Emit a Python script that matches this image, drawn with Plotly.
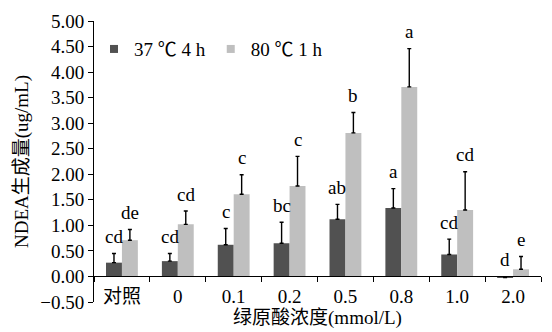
import plotly.graph_objects as go

categories = ["对照", "0", "0.1", "0.2", "0.5", "0.8", "1.0", "2.0"]
series_names = ["37 ℃ 4 h", "80 ℃ 1 h"]
vals_37 = [0.27, 0.30, 0.62, 0.65, 1.12, 1.34, 0.43, -0.02]
err_37 = [0.18, 0.15, 0.32, 0.41, 0.29, 0.38, 0.30, 0.0]
vals_80 = [0.71, 1.02, 1.61, 1.77, 2.81, 3.71, 1.30, 0.14]
err_80 = [0.21, 0.26, 0.38, 0.58, 0.40, 0.75, 0.75, 0.25]
letters_37 = ["cd", "cd", "c", "bc", "ab", "a", "cd", "d"]
letters_80 = ["de", "cd", "c", "c", "b", "a", "cd", "e"]
y_ticks = [-0.5, 0, 0.5, 1.0, 1.5, 2.0, 2.5, 3.0, 3.5, 4.0, 4.5, 5.0]

DARK = "#515151"
LIGHT = "#bfbfbf"
FONT = "Liberation Serif, Times New Roman, Noto Sans CJK SC, serif"

fig = go.Figure()
for name, vals, errs, color in [(series_names[0], vals_37, err_37, DARK),
                                (series_names[1], vals_80, err_80, LIGHT)]:
    fig.add_trace(go.Bar(
        x=categories, y=vals, name=name, marker_color=color,
        marker_line_width=0, showlegend=False,
        error_y=dict(type="data", symmetric=False, array=errs,
                     arrayminus=[0] * len(errs), color="black",
                     thickness=1.4, width=2),
    ))
    # legend entry with a small square symbol
    fig.add_trace(go.Scatter(
        x=[None], y=[None], mode="markers", name=name,
        marker=dict(symbol="square", size=8, color=color),
    ))

annotations = []
for vals, errs, letters, shift in [(vals_37, err_37, letters_37, -8),
                                   (vals_80, err_80, letters_80, 8)]:
    for i, (v, e, t) in enumerate(zip(vals, errs, letters)):
        annotations.append(dict(
            x=i, y=max(v + e, 0), xref="x", yref="y", text=t,
            showarrow=False, xshift=shift, yshift=17, yanchor="middle",
            font=dict(family=FONT, size=19, color="black"),
        ))

fig.update_layout(
    width=552, height=332,
    margin=dict(l=94, r=11, t=17, b=30),
    paper_bgcolor="white", plot_bgcolor="white",
    barmode="group", bargap=0.43, bargroupgap=0,
    font=dict(family=FONT, size=18, color="black"),
    legend=dict(orientation="h", x=0.0, xanchor="left", y=0.90,
                yanchor="middle", font=dict(family=FONT, size=19, color="black"),
                bgcolor="rgba(0,0,0,0)", tracegroupgap=0, itemwidth=30),
    annotations=annotations,
)
fig.update_yaxes(
    range=[-0.5, 5.0], tickvals=y_ticks, tickformat=".2f",
    showline=True, linecolor="black", linewidth=1,
    ticks="outside", ticklen=5, tickcolor="black",
    showgrid=False, zeroline=False,
    title=dict(text="NDEA生成量(ug/mL)", font=dict(family=FONT, size=19), standoff=6),
    tickfont=dict(family=FONT, size=19),
)
fig.update_xaxes(
    anchor="free", position=0.5 / 5.5,
    showline=True, linecolor="black", linewidth=1,
    ticks="outside", ticklen=5, tickcolor="black", tickson="boundaries",
    showgrid=False, zeroline=False,
    tickfont=dict(family=FONT, size=19), ticklabelstandoff=3,
    title=dict(text="绿原酸浓度(mmol/L)", font=dict(family=FONT, size=19), standoff=0),
)

fig.write_html("out.html")
